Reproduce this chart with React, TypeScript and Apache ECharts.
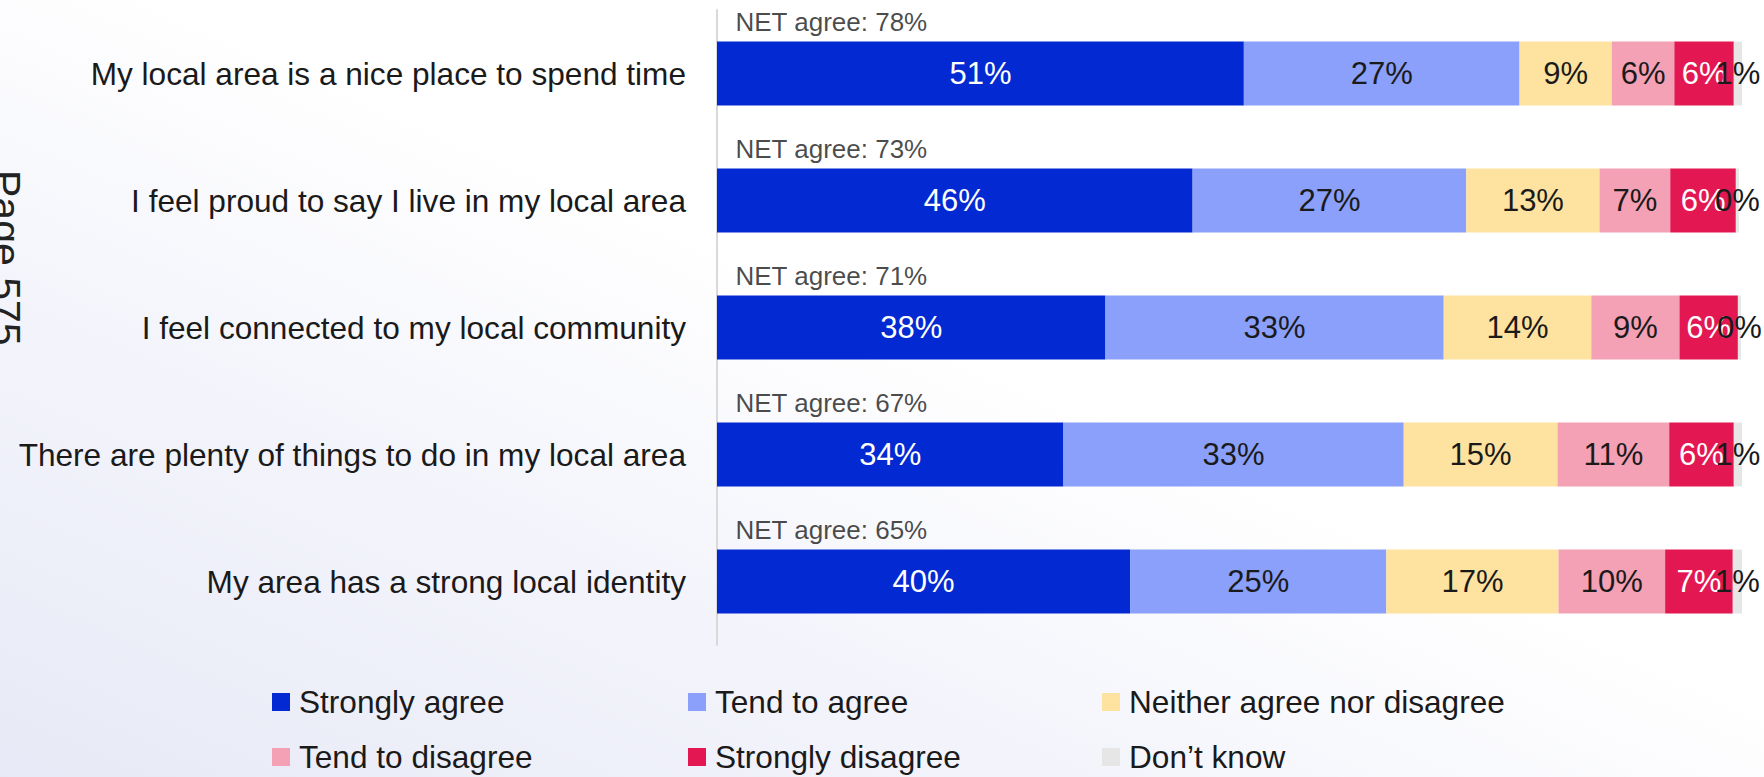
import React, { useEffect, useRef } from "react";
import * as echarts from "echarts";

const categories = [
  "My local area is a nice place to spend time",
  "I feel proud to say I live in my local area",
  "I feel connected to my local community",
  "There are plenty of things to do in my local area",
  "My area has a strong local identity",
];

const seriesNames = [
  "Strongly agree",
  "Tend to agree",
  "Neither agree nor disagree",
  "Tend to disagree",
  "Strongly disagree",
  "Don\u2019t know",
];

const stronglyAgree = [51.4, 46.4, 37.9, 33.8, 40.3];
const tendToAgree = [26.9, 26.7, 33.0, 33.2, 25.0];
const neither = [9.0, 13.0, 14.4, 15.0, 16.8];
const tendToDisagree = [6.1, 6.9, 8.6, 10.9, 10.4];
const stronglyDisagree = [5.8, 6.4, 5.7, 6.3, 6.6];
const dontKnow = [0.8, 0.3, 0.3, 0.8, 0.9];

const netAgree = [78, 73, 71, 67, 65];

const colors = ["#0329d2", "#8aa0fa", "#fee3a0", "#f4a0b5", "#e31853", "#e6e6e6"];
const labelColors = ["#ffffff", "#1a1a1a", "#1a1a1a", "#1a1a1a", "#ffffff", "#1a1a1a"];

const FONT = "'Liberation Sans', Arial, sans-serif";

export default function App() {
  const ref = useRef<HTMLDivElement>(null);

  useEffect(() => {
    if (!ref.current) return;
    const chart = echarts.init(ref.current, null, { renderer: "svg" });
    const values = [stronglyAgree, tendToAgree, neither, tendToDisagree, stronglyDisagree, dontKnow];

    const barSeries = seriesNames.map((name, i) => ({
      name,
      type: "bar",
      stack: "total",
      barWidth: 64,
      data: values[i],
      itemStyle: { color: colors[i] },
      label: {
        show: true,
        position: "inside",
        formatter: (p: any) => Math.round(p.value) + "%",
        fontSize: 31,
        fontFamily: FONT,
        color: labelColors[i],
      },
      silent: true,
    }));

    const legendBase = {
      orient: "vertical",
      top: 684,
      padding: 0,
      itemGap: 19,
      itemWidth: 18,
      itemHeight: 18,
      icon: "rect",
      textStyle: {
        fontSize: 31.6,
        fontFamily: FONT,
        color: "#1a1a1a",
        lineHeight: 36,
        padding: [0, 0, 0, 4],
      },
    };

    chart.setOption({
      animation: false,
      backgroundColor: "transparent",
      textStyle: { fontFamily: FONT },
      grid: { left: 717, right: 22, top: 10, bottom: 132, containLabel: false },
      xAxis: { type: "value", min: 0, max: 100, show: false },
      yAxis: {
        type: "category",
        data: categories,
        inverse: true,
        axisTick: { show: false },
        axisLine: { show: true, lineStyle: { color: "#d9d9d9", width: 2 } },
        axisLabel: { fontSize: 31.6, fontFamily: FONT, color: "#1a1a1a", margin: 31 },
      },
      legend: [
        { ...legendBase, left: 272, data: [seriesNames[0], seriesNames[3]] },
        { ...legendBase, left: 688, data: [seriesNames[1], seriesNames[4]] },
        { ...legendBase, left: 1102, data: [seriesNames[2], seriesNames[5]] },
      ],
      graphic: [
        {
          type: "text",
          x: 6,
          y: 170,
          rotation: -Math.PI / 2,
          style: {
            text: "Page 575",
            fontSize: 41,
            fontFamily: FONT,
            fill: "#222222",
            textAlign: "left",
            textVerticalAlign: "middle",
          },
          silent: true,
        },
      ],
      series: [
        ...barSeries,
        {
          name: "NET",
          type: "scatter",
          symbolSize: 1,
          itemStyle: { color: "rgba(0,0,0,0)" },
          data: netAgree.map((_, i) => [0, i]),
          label: {
            show: true,
            position: "right",
            distance: 18,
            offset: [0, -52],
            formatter: (p: any) => "NET agree: " + netAgree[p.dataIndex] + "%",
            fontSize: 26,
            fontFamily: FONT,
            color: "#1a1a1a",
          },
          silent: true,
          z: 5,
        },
      ],
    });

    return () => chart.dispose();
  }, []);

  return (
    <div
      style={{
        position: "absolute",
        left: 0,
        top: 0,
        width: 1764,
        height: 777,
        overflow: "hidden",
        background:
          "linear-gradient(to top right, #e7e9f6 0%, #f3f4fb 30%, #ffffff 55%, #ffffff 100%)",
      }}
    >
      <div ref={ref} style={{ width: 1764, height: 777 }} />
    </div>
  );
}
